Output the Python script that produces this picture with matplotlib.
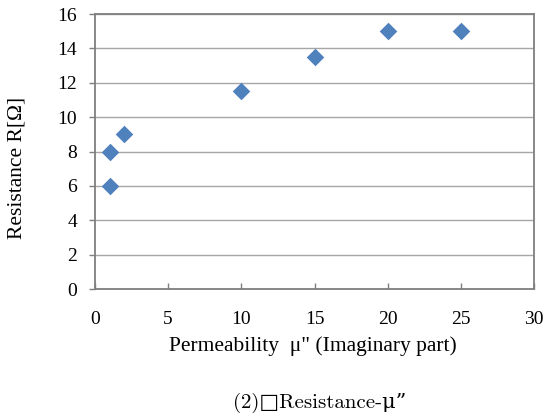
import matplotlib
matplotlib.use("Agg")
import matplotlib.pyplot as plt

mu_imag = [1, 1, 2, 10, 15, 20, 25]
resistance = [6, 8, 9, 11.5, 13.5, 15, 15]
xticks = [0, 5, 10, 15, 20, 25, 30]
yticks = [0, 2, 4, 6, 8, 10, 12, 14, 16]

serif = ["Liberation Serif", "DejaVu Serif"]

fig = plt.figure(figsize=(5.44, 4.19), dpi=100)
ax = fig.add_axes([95/544, 1-289/419, (534-95)/544, (289-14)/419])

ax.scatter(mu_imag, resistance, marker="D", s=80, color="#4F81BD", zorder=3, linewidths=0)

ax.set_xlim(0, 30)
ax.set_ylim(0, 16)
ax.set_xticks(xticks)
ax.set_yticks(yticks)
ax.set_xticklabels([str(t) for t in xticks], fontfamily=serif, fontsize=14)
ax.set_yticklabels([str(t) for t in yticks], fontfamily=serif, fontsize=14)

ax.grid(axis="y", color="#A6A6A6", linewidth=1.0, zorder=0)
ax.set_axisbelow(True)
for s in ax.spines.values():
    s.set_color("#7F7F7F")
    s.set_linewidth(1.3)

ax.tick_params(axis="x", direction="in", length=4, width=1, color="#7F7F7F", pad=16)
ax.tick_params(axis="y", direction="out", length=4, width=1, color="#7F7F7F", pad=9)

ax.set_xlabel("Permeability  \u03bc\" (Imaginary part)", fontfamily=serif, fontsize=15.5)
ax.set_ylabel("Resistance R[\u03a9]", fontfamily=serif, fontsize=15.5)
ax.xaxis.set_label_coords((313-95)/439, -(346-289)/275)
ax.yaxis.set_label_coords((17-95)/439, (289-168)/275)
ax.xaxis.label.set_va("center")
ax.yaxis.label.set_va("center")

fig.text(320/544, 1-403/419, "(2)\u25a1Resistance-\u03bc\u201d", ha="center", va="center",
         fontfamily=["cmr10", "DejaVu Serif"], fontsize=15)

fig.savefig("out.png", dpi=100)
